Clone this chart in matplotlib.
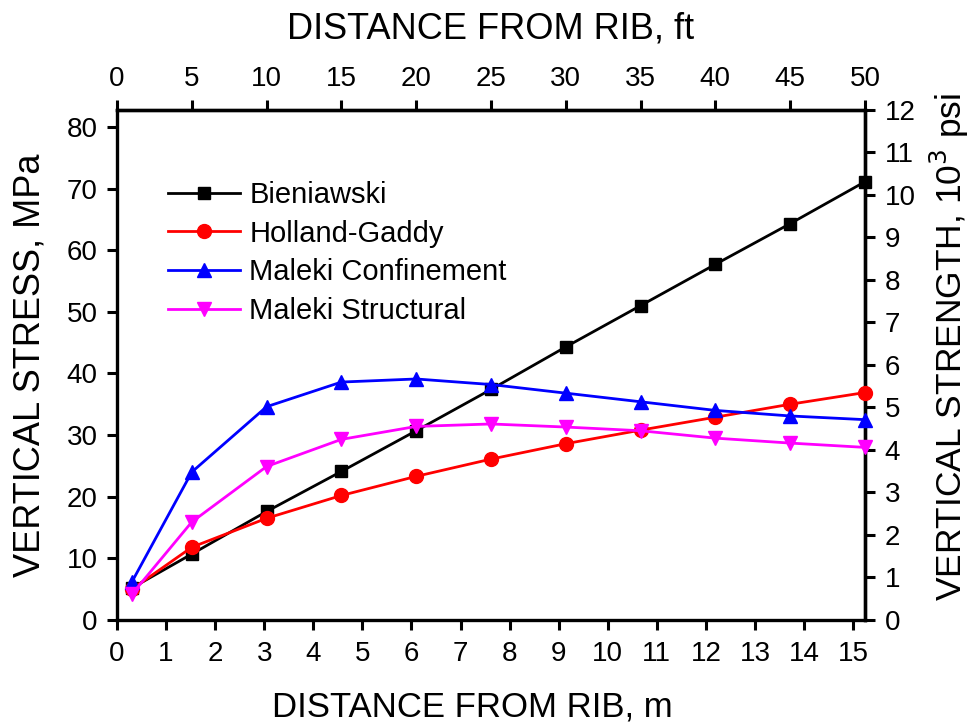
import matplotlib.pyplot as plt
import numpy as np

plt.rcParams["font.family"] = ["Liberation Sans", "DejaVu Sans"]

MPA_PER_KSI = 6.894757
M_PER_FT = 0.3048

# distance from rib, ft
dist_ft = [1, 5, 10, 15, 20, 25, 30, 35, 40, 45, 50]

# vertical stress, MPa
bieniawski = [5.2, 10.7, 17.6, 24.1, 30.7, 37.4, 44.3, 51.0, 57.7, 64.3, 71.1]
holland_gaddy = [5.0, 11.8, 16.5, 20.2, 23.3, 26.1, 28.6, 30.8, 32.9, 35.0, 36.9]
maleki_conf = [6.2, 24.0, 34.6, 38.6, 39.1, 38.2, 36.8, 35.4, 34.0, 33.1, 32.5]
maleki_struct = [4.2, 15.9, 24.9, 29.3, 31.4, 31.8, 31.3, 30.7, 29.5, 28.7, 28.0]

series = [
    ("Bieniawski", bieniawski, "black", "s", 9),
    ("Holland-Gaddy", holland_gaddy, "red", "o", 10),
    ("Maleki Confinement", maleki_conf, "blue", "^", 10),
    ("Maleki Structural", maleki_struct, "magenta", "v", 10),
]

x_m = np.array(dist_ft) * M_PER_FT

fig = plt.figure(figsize=(9.71, 7.27), dpi=100)
ax = fig.add_axes([0.1205, 0.1472, 0.7703, 0.7015])

for name, vals, color, marker, ms in series:
    ax.plot(x_m, vals, color=color, marker=marker, markersize=ms,
            linewidth=2.0, label=name, clip_on=False, zorder=3)

ax.set_xlim(0, 50 * M_PER_FT)
ax.set_ylim(0, 12 * MPA_PER_KSI)
ax.set_xticks(range(0, 16))
ax.set_yticks(range(0, 81, 10))

tick_kw = dict(direction="out", length=7, width=2.2, labelsize=20)
ax.tick_params(axis="x", pad=8, **tick_kw)
ax.tick_params(axis="y", pad=7, **tick_kw)
for sp in ax.spines.values():
    sp.set_linewidth(2.4)

ax.set_xlabel("DISTANCE FROM RIB, m", fontsize=25, labelpad=17)
ax.xaxis.label.set_x(0.475)
ax.set_ylabel("VERTICAL STRESS, MPa", fontsize=26, labelpad=14)

# feet on top
top = ax.secondary_xaxis("top", functions=(lambda m: m / M_PER_FT,
                                           lambda f: f * M_PER_FT))
top.set_xticks(range(0, 51, 5))
top.tick_params(pad=6, **tick_kw)
top.spines["top"].set_linewidth(2.4)
top.set_xlabel("DISTANCE FROM RIB, ft", fontsize=26, labelpad=20)

# strength in ksi on the right
right = ax.secondary_yaxis("right", functions=(lambda s: s / MPA_PER_KSI,
                                               lambda k: k * MPA_PER_KSI))
right.set_yticks(range(0, 13))
right.tick_params(pad=7, **tick_kw)
right.spines["right"].set_linewidth(2.4)
right.set_ylabel("VERTICAL STRENGTH, 10$^3$ psi", fontsize=25.5, labelpad=9)
right.yaxis.label.set_y(0.535)

ax.legend(loc="upper left", bbox_to_anchor=(0.052, 0.884), frameon=False,
          fontsize=21, handlelength=2.5, handletextpad=0.3, labelspacing=0.37,
          borderaxespad=0)

fig.savefig("out.png", dpi=100)
